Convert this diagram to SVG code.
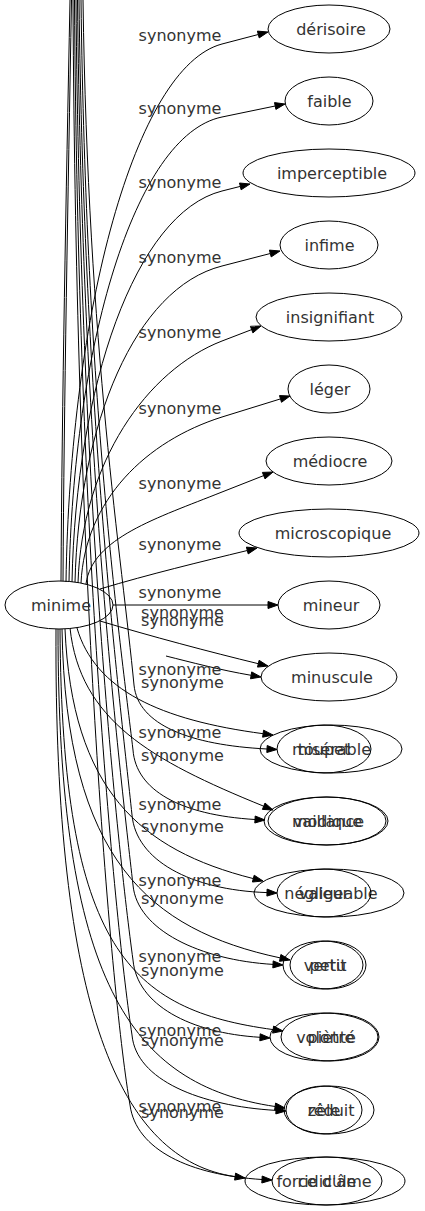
<svg xmlns="http://www.w3.org/2000/svg" width="425" height="1211" viewBox="0 0 425 1211">
<style>
text{font-family:"DejaVu Sans",Verdana,sans-serif;font-size:16px;fill:#333;text-anchor:middle}
ellipse{fill:none;stroke:#000;stroke-width:1}
#edges path{fill:none;stroke:#000;stroke-width:1}
#edges polygon{fill:#000;stroke:#000;stroke-width:1}
</style>
<rect width="425" height="1211" fill="#fff"/>
<g id="edges">
<path d="M61,581 C62,400 66,200 70,0"/>
<path d="M63,581 C64,400 68,200 71.5,0"/>
<path d="M66,582 C70,313 135,67 222,44 L258.3,34.5"/><polygon points="268,32 259.2,37.9 257.4,31.1"/>
<path d="M69,582 C73,349 134,135 222,117 L275.2,106"/><polygon points="285,104 275.9,109.4 274.5,102.6"/>
<path d="M72,582 C76,387 135,213 222,191 L240.3,186.4"/><polygon points="250,184 241.1,189.8 239.5,183"/>
<path d="M75,582 C79,424 135,288 222,266 L270.3,253.5"/><polygon points="280,251 271.2,256.9 269.4,250.1"/>
<path d="M78,583 C82,462 147,370 222,341 L251.7,329.6"/><polygon points="261,326 252.9,332.9 250.4,326.3"/>
<path d="M81,583 C85,500 146,441 222,417 L280.5,398.9"/><polygon points="290,396 281.5,402.3 279.5,395.6"/>
<path d="M86,584 C92,538 157,518 222,492 L263.7,475.6"/><polygon points="273,472 265,478.9 262.4,472.4"/>
<path d="M100,589 C150,574 200,562 247.3,550.5"/><polygon points="257,548 248.2,553.9 246.4,547.1"/>
<path d="M113,605 L268,605"/><polygon points="278,605 268,601.5 268,608.5"/>
<path d="M100,621 C150,636 210,652 258.3,663.7"/><polygon points="268,666 257.5,667.1 259.1,660.3"/>
<path d="M166,656 C190,662 220,670 251.1,675.3"/><polygon points="261,677 250.5,678.8 251.7,671.9"/>
<path d="M77,628 C95,690 160,720 263.1,733.7"/><polygon points="273,735 262.6,737.2 263.6,730.2"/>
<path d="M83,0 C88,350 122,560 134,685 C138,725 190,745 267,749"/><polygon points="277,749.5 266.8,752.5 267.2,745.5"/>
<path d="M70,628 C80,720 150,760 263.7,806.2"/><polygon points="273,810 262.4,809.4 265,803"/>
<path d="M81,0 C86,400 120,640 133,750 C136,790 180,815 255,819.5"/><polygon points="265,820 254.8,823 255.2,816"/>
<path d="M65,629 C72,790 140,850 253.3,878.6"/><polygon points="263,881 252.4,882 254.2,875.2"/>
<path d="M79,0 C84,420 120,700 132,815 C136,860 190,890 267,892.6"/><polygon points="277,893 266.9,896.1 267.1,889.1"/>
<path d="M62,629 C66,860 150,930 280.2,957.9"/><polygon points="290,960 279.5,961.3 280.9,954.5"/>
<path d="M77.5,0 C82,460 120,770 133,885 C137,930 200,960 273,964.4"/><polygon points="283,965 272.8,967.9 273.2,960.9"/>
<path d="M60,629 C62,950 130,1010 273.1,1029.6"/><polygon points="283,1031 272.6,1033.1 273.6,1026.1"/>
<path d="M76,0 C80,500 118,850 133,960 C137,1005 190,1033 260,1037.3"/><polygon points="270,1038 259.8,1040.8 260.2,1033.8"/>
<path d="M58,629 C58,980 130,1085 275.1,1106.5"/><polygon points="285,1108 274.6,1110 275.6,1103"/>
<path d="M74.5,0 C78,550 116,930 132,1035 C136,1080 200,1106 276,1110.4"/><polygon points="286,1111 275.8,1113.9 276.2,1106.9"/>
<path d="M56,629 C54,1010 120,1160 235.1,1176.6"/><polygon points="245,1178 234.6,1180.1 235.6,1173.1"/>
<path d="M73,0 C76,600 112,1000 130,1105 C136,1150 190,1175 262,1179.5"/><polygon points="272,1180 261.8,1183 262.2,1176"/>
</g>
<g id="edge-labels">
<text x="180" y="41">synonyme</text>
<text x="180" y="114">synonyme</text>
<text x="180" y="188">synonyme</text>
<text x="180" y="263">synonyme</text>
<text x="180" y="338">synonyme</text>
<text x="180" y="414">synonyme</text>
<text x="180" y="489">synonyme</text>
<text x="180" y="550">synonyme</text>
<text x="180" y="598">synonyme</text>
<text x="182.5" y="618">synonyme</text>
<text x="182.5" y="626">synonyme</text>
<text x="180" y="675">synonyme</text>
<text x="182.5" y="688">synonyme</text>
<text x="180" y="738">synonyme</text>
<text x="182.5" y="761">synonyme</text>
<text x="180" y="810">synonyme</text>
<text x="182.5" y="832">synonyme</text>
<text x="180" y="886">synonyme</text>
<text x="182.5" y="904">synonyme</text>
<text x="180" y="962">synonyme</text>
<text x="182.5" y="976">synonyme</text>
<text x="180" y="1036">synonyme</text>
<text x="182.5" y="1046">synonyme</text>
<text x="180" y="1112">synonyme</text>
<text x="182.5" y="1118">synonyme</text>
</g>
<g id="node-minime"><ellipse cx="59" cy="605" rx="54" ry="24"/><text x="61" y="610.5">minime</text></g>
<g id="node-derisoire"><ellipse cx="329" cy="29" rx="61" ry="24"/><text x="331" y="34.5">dérisoire</text></g>
<g id="node-faible"><ellipse cx="329" cy="101" rx="44" ry="24"/><text x="329.5" y="106.5">faible</text></g>
<g id="node-imperceptible"><ellipse cx="329" cy="173" rx="86" ry="24"/><text x="332" y="178.5">imperceptible</text></g>
<g id="node-infime"><ellipse cx="329" cy="245" rx="49" ry="24"/><text x="329.5" y="250.5">infime</text></g>
<g id="node-insignifiant"><ellipse cx="329" cy="317" rx="73" ry="24"/><text x="330" y="322.5">insignifiant</text></g>
<g id="node-leger"><ellipse cx="329" cy="389" rx="41" ry="24"/><text x="330" y="394.5">léger</text></g>
<g id="node-mediocre"><ellipse cx="329" cy="461" rx="63" ry="24"/><text x="330" y="466.5">médiocre</text></g>
<g id="node-microscopique"><ellipse cx="329" cy="533" rx="90" ry="24"/><text x="333" y="538.5">microscopique</text></g>
<g id="node-mineur"><ellipse cx="329" cy="605" rx="51" ry="24"/><text x="331" y="610.5">mineur</text></g>
<g id="node-minuscule"><ellipse cx="329" cy="677" rx="68" ry="24"/><text x="332" y="682.5">minuscule</text></g>
<g id="node-miserable"><ellipse cx="331" cy="749" rx="71" ry="24"/><text x="331.5" y="754.5">misérable</text></g>
<g id="node-toupet"><ellipse cx="324" cy="749" rx="47" ry="24"/><text x="324" y="754.5">toupet</text></g>
<g id="node-modique"><ellipse cx="326" cy="821" rx="62" ry="24"/><text x="327" y="826.5">modique</text></g>
<g id="node-vaillance"><ellipse cx="327" cy="821" rx="59" ry="24"/><text x="328.5" y="826.5">vaillance</text></g>
<g id="node-negligeable"><ellipse cx="329" cy="893" rx="75" ry="24"/><text x="331" y="898.5">négligeable</text></g>
<g id="node-valeur"><ellipse cx="324" cy="893" rx="47" ry="24"/><text x="324" y="898.5">valeur</text></g>
<g id="node-petit"><ellipse cx="328" cy="965" rx="38" ry="24"/><text x="328" y="970.5">petit</text></g>
<g id="node-vertu"><ellipse cx="323" cy="965" rx="40" ry="24"/><text x="325" y="970.5">vertu</text></g>
<g id="node-pietre"><ellipse cx="330" cy="1037" rx="49" ry="24"/><text x="331" y="1042.5">piètre</text></g>
<g id="node-volonte"><ellipse cx="324" cy="1037" rx="54" ry="24"/><text x="326" y="1042.5">volonté</text></g>
<g id="node-reduit"><ellipse cx="329" cy="1110" rx="45" ry="24"/><text x="331" y="1115.5">réduit</text></g>
<g id="node-zele"><ellipse cx="324" cy="1110" rx="38" ry="24"/><text x="324" y="1115.5">zèle</text></g>
<g id="node-force-dame"><ellipse cx="325" cy="1181" rx="80" ry="24"/><text x="324" y="1186.5">force d'âme</text></g>
<g id="node-ridicule"><ellipse cx="327" cy="1181" rx="55" ry="24"/><text x="327" y="1186.5">ridicule</text></g>
</svg>
